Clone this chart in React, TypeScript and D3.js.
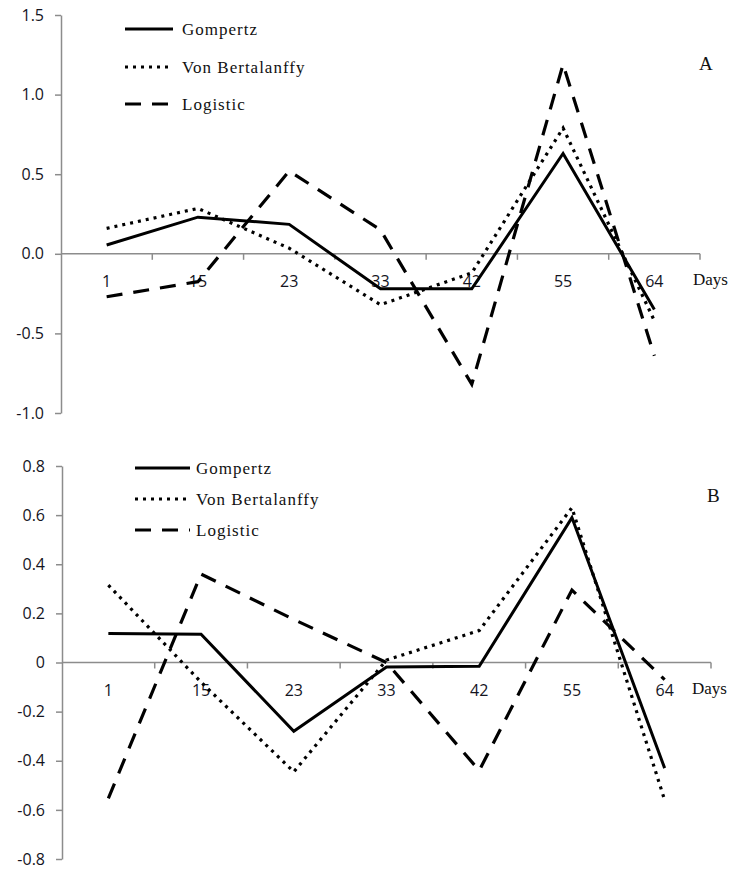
import { useRef, useEffect } from 'react'
import { select, scaleBand, scaleLinear, line, axisLeft } from 'd3'

// sampling days (category axis)
const days = ['1', '15', '23', '33', '42', '55', '64']
const seriesNames = ['Gompertz', 'Von Bertalanffy', 'Logistic']

// panel A residuals
const gompertzA = [0.055, 0.23, 0.185, -0.22, -0.22, 0.63, -0.35]
const vonBertA = [0.16, 0.285, 0.035, -0.32, -0.12, 0.79, -0.42]
const logisticA = [-0.27, -0.175, 0.52, 0.15, -0.82, 1.19, -0.64]
const ticksA = [-1.0, -0.5, 0.0, 0.5, 1.0, 1.5]

// panel B residuals
const gompertzB = [0.118, 0.115, -0.28, -0.018, -0.015, 0.59, -0.43]
const vonBertB = [0.315, -0.08, -0.445, 0.01, 0.13, 0.63, -0.56]
const logisticB = [-0.553, 0.36, 0.175, 0.0, -0.44, 0.295, -0.07]
const ticksB = [-0.8, -0.6, -0.4, -0.2, 0, 0.2, 0.4, 0.6, 0.8]

const W = 737
const H = 871

const styles = [
  { dash: null, width: 3 },
  { dash: '3 5', width: 3.2 },
  { dash: '16 11', width: 3.2 },
]

const panels = [
  {
    series: [gompertzA, vonBertA, logisticA],
    ticks: ticksA,
    fmt: (v) => v.toFixed(1),
    x0: 61, x1: 700, yTop: 15, yBot: 413,
    leg: { lx1: 125, lx2: 173, tx: 182, rows: [29, 67, 104] },
    letter: 'A', letterPos: [699, 70],
    daysX: 693,
  },
  {
    series: [gompertzB, vonBertB, logisticB],
    ticks: ticksB,
    fmt: (v) => (v === 0 ? '0' : v.toFixed(1)),
    x0: 62, x1: 711, yTop: 466, yBot: 859,
    leg: { lx1: 135, lx2: 190, tx: 196, rows: [468, 499, 530] },
    letter: 'B', letterPos: [707, 502],
    daysX: 692,
  },
]

const tickFont = '"Open Sans", sans-serif'
const serifFont = '"Liberation Serif", serif'

const App = () => {
  const svgRef = useRef(null)

  useEffect(() => {
    const svg = select(svgRef.current)
    svg.selectAll('*').remove()

    panels.forEach((p) => {
      const g = svg.append('g')
      const x = scaleBand().domain(days).range([p.x0, p.x1]).padding(0)
      const y = scaleLinear()
        .domain([p.ticks[0], p.ticks[p.ticks.length - 1]])
        .range([p.yBot, p.yTop])

      // y axis
      const yAxis = axisLeft(y).tickValues(p.ticks).tickFormat(p.fmt).tickSize(6).tickSizeOuter(0).tickPadding(11)
      const ya = g.append('g').attr('transform', `translate(${p.x0},0)`).call(yAxis)
      ya.select('.domain').attr('stroke', '#8c8c8c').attr('stroke-width', 1.5)
      ya.selectAll('.tick line').attr('stroke', '#8c8c8c').attr('stroke-width', 1.5)
      ya.selectAll('.tick text')
        .attr('font-family', tickFont)
        .attr('font-size', 16)
        .attr('font-weight', 500)
        .attr('fill', '#14141e')

      // x axis crossing at zero
      const y0 = y(0)
      g.append('line')
        .attr('x1', p.x0).attr('x2', p.x1)
        .attr('y1', y0).attr('y2', y0)
        .attr('stroke', '#8c8c8c').attr('stroke-width', 1.5)
      const bounds = days.map((d) => x(d)).concat([p.x1])
      g.selectAll('.xtick')
        .data(bounds.slice(1))
        .join('line')
        .attr('x1', (d) => d).attr('x2', (d) => d)
        .attr('y1', y0).attr('y2', y0 + 6)
        .attr('stroke', '#8c8c8c').attr('stroke-width', 1.5)
      g.selectAll('.xlab')
        .data(days)
        .join('text')
        .attr('x', (d) => x(d) + x.bandwidth() / 2)
        .attr('y', y0 + 33)
        .attr('text-anchor', 'middle')
        .attr('font-family', tickFont)
        .attr('font-size', 16)
        .attr('font-weight', 500)
        .attr('fill', '#14141e')
        .text((d) => d)
      g.append('text')
        .attr('x', p.daysX).attr('y', y0 + 31)
        .attr('font-family', serifFont)
        .attr('font-size', 17)
        .attr('fill', '#111')
        .text('Days')

      // series lines
      const ln = line()
        .x((d, i) => x(days[i]) + x.bandwidth() / 2)
        .y((d) => y(d))
      p.series.forEach((s, k) => {
        const st = styles[k]
        g.append('path')
          .datum(s)
          .attr('d', ln)
          .attr('fill', 'none')
          .attr('stroke', '#000')
          .attr('stroke-width', st.width)
          .attr('stroke-linejoin', 'miter')
          .attr('stroke-dasharray', st.dash)
      })

      // legend
      seriesNames.forEach((name, k) => {
        const st = styles[k]
        const ry = p.leg.rows[k]
        g.append('line')
          .attr('x1', p.leg.lx1).attr('x2', p.leg.lx2)
          .attr('y1', ry).attr('y2', ry)
          .attr('stroke', '#000')
          .attr('stroke-width', st.width)
          .attr('stroke-dasharray', st.dash)
        g.append('text')
          .attr('x', p.leg.tx).attr('y', ry + 6)
          .attr('font-family', serifFont)
          .attr('font-size', 17)
          .attr('letter-spacing', 1)
          .attr('fill', '#111')
          .text(name)
      })

      g.append('text')
        .attr('x', p.letterPos[0]).attr('y', p.letterPos[1])
        .attr('font-family', serifFont)
        .attr('font-size', 19)
        .attr('fill', '#111')
        .text(p.letter)
    })
  }, [])

  return (
    <svg ref={svgRef} width={W} height={H} style={{ position: 'absolute', left: 0, top: 0, background: '#fff' }} />
  )
}

export default App
